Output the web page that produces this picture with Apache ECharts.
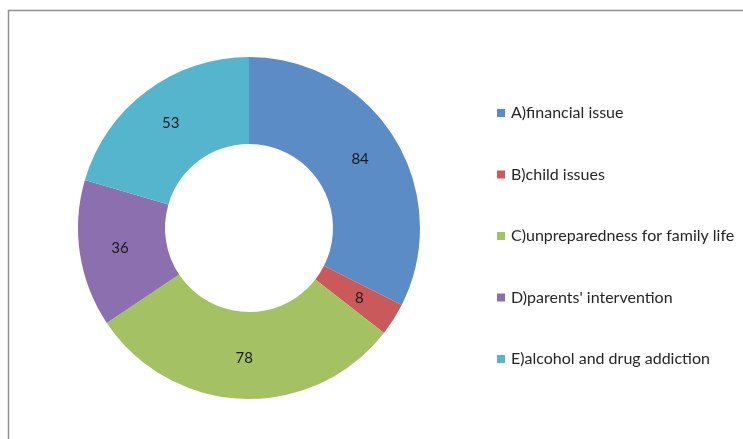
<!DOCTYPE html>
<html><head><meta charset="utf-8">
<script src="https://cdn.jsdelivr.net/npm/echarts@6/dist/echarts.min.js"></script>
<style>html,body{margin:0;padding:0;background:#fff}#c{width:743px;height:439px}</style>
</head><body><div id="c"></div>
<script>
const categories = ['A)financial issue','B)child issues','C)unpreparedness for family life',"D)parents' intervention",'E)alcohol and drug addiction'];
const values = [84, 8, 78, 36, 53];
const colors = ['#5B8CC6','#C9595A','#A4C263','#8C6FAE','#55B5CD'];
const chart = echarts.init(document.getElementById('c'), null, {renderer:'canvas'});
chart.setOption({
  animation:false,
  backgroundColor:'#fff',
  color: colors,
  graphic:[{type:'rect',shape:{x:8.5,y:10.5,width:900,height:600},style:{fill:'none',stroke:'#8f8f8f',lineWidth:1.5},silent:true}],
  legend:{
    orient:'vertical', left:492, top:100, itemWidth:8, itemHeight:8, itemGap:45.5,
    icon:'rect',
    textStyle:{fontFamily:'Lato, "Open Sans", sans-serif', fontSize:16, color:'#262626', lineHeight:16, padding:[0,0,0,1]},
    data: categories
  },
  series:[{
    type:'pie', center:[249,228], radius:[84,171], startAngle:90, clockwise:true,
    avoidLabelOverlap:false,
    label:{show:true, position:'inside', formatter:'{c}', fontFamily:'Lato, "Open Sans", sans-serif', fontSize:15, color:'#1a1a1a'},
    labelLine:{show:false},
    itemStyle:{borderWidth:0},
    emphasis:{disabled:true},
    data: categories.map((n,i)=>({name:n, value:values[i]}))
  }]
});
</script></body></html>
